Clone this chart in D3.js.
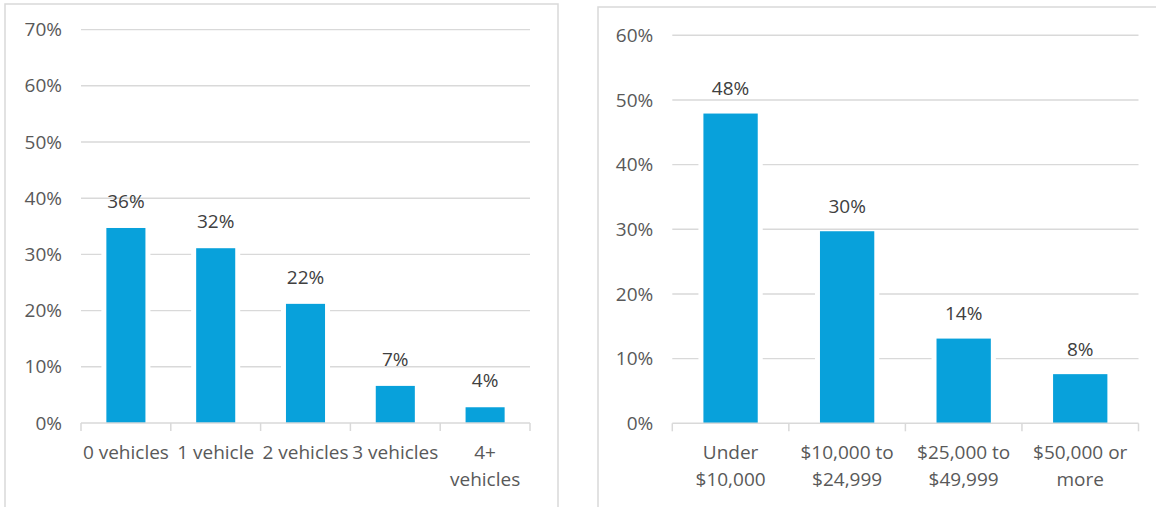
<!DOCTYPE html>
<html>
<head>
<meta charset="utf-8">
<script src="https://cdn.jsdelivr.net/npm/d3@7"></script>
<style>
    body { margin: 0; background: #fff; }
    svg { display: block; font-family: "Open Sans", "Noto Sans", sans-serif; }
</style>
</head>
<body>
<div id="chart"></div>
<script>
// Left chart: vehicles available
const vehicleCategories = ['0 vehicles', '1 vehicle', '2 vehicles', '3 vehicles', '4+\nvehicles'];
const vehicleValues = [34.7, 31.1, 21.2, 6.6, 2.8];
const vehicleLabels = ['36%', '32%', '22%', '7%', '4%'];
const vehicleTicks = [0, 10, 20, 30, 40, 50, 60, 70];

// Right chart: household income
const incomeCategories = ['Under\n$10,000', '$10,000 to\n$24,999', '$25,000 to\n$49,999', '$50,000 or\nmore'];
const incomeValues = [47.9, 29.7, 13.1, 7.6];
const incomeLabels = ['48%', '30%', '14%', '8%'];
const incomeTicks = [0, 10, 20, 30, 40, 50, 60];

const colors = {
    bar: '#08a1db',
    grid: '#d9d9d9',
    axisText: '#595959',
    labelText: '#404040'
};

const svg = d3.select('#chart')
    .append('svg')
    .attr('width', 1156)
    .attr('height', 507);

function drawChart(opts) {
    const g = svg.append('g');

    // panel border
    g.append('rect')
        .attr('x', opts.panel.x)
        .attr('y', opts.panel.y)
        .attr('width', opts.panel.w)
        .attr('height', opts.panel.h)
        .attr('fill', 'none')
        .attr('stroke', colors.grid)
        .attr('stroke-width', 1.5);

    const x = d3.scaleBand()
        .domain(opts.categories)
        .range([opts.left, opts.right])
        .padding(0);

    const y = d3.scaleLinear()
        .domain([0, d3.max(opts.ticks)])
        .range([opts.bottom, opts.top]);

    // gridlines
    g.selectAll('line.grid')
        .data(opts.ticks.filter(t => t > 0))
        .enter()
        .append('line')
        .attr('class', 'grid')
        .attr('x1', opts.left)
        .attr('x2', opts.right)
        .attr('y1', d => y(d))
        .attr('y2', d => y(d))
        .attr('stroke', colors.grid)
        .attr('stroke-width', 1.4);

    // y axis labels
    const yAxis = g.append('g')
        .attr('transform', `translate(${opts.left - 19},0)`)
        .call(d3.axisLeft(y).tickValues(opts.ticks).tickSize(0).tickPadding(0).tickFormat(d => d + '%'));
    yAxis.select('.domain').remove();
    yAxis.selectAll('text')
        .attr('fill', colors.axisText)
        .style('font-size', '19px')
        .style('font-family', '"Open Sans", "Noto Sans", sans-serif');

    const data = opts.categories.map((c, i) => ({cat: c, value: opts.values[i], label: opts.labels[i]}));
    const barW = x.bandwidth() * opts.barRatio;

    // white gap on each side of the bars (hides gridlines)
    g.selectAll('rect.halo')
        .data(data)
        .enter()
        .append('rect')
        .attr('class', 'halo')
        .attr('x', d => x(d.cat) + (x.bandwidth() - barW) / 2 - 5)
        .attr('y', d => y(d.value))
        .attr('width', barW + 10)
        .attr('height', d => y(0) - y(d.value))
        .attr('fill', '#fff');

    g.selectAll('rect.bar')
        .data(data)
        .enter()
        .append('rect')
        .attr('class', 'bar')
        .attr('x', d => x(d.cat) + (x.bandwidth() - barW) / 2)
        .attr('y', d => y(d.value))
        .attr('width', barW)
        .attr('height', d => y(0) - y(d.value))
        .attr('fill', colors.bar);

    // data labels
    g.selectAll('text.value')
        .data(data)
        .enter()
        .append('text')
        .attr('class', 'value')
        .attr('x', d => x(d.cat) + x.bandwidth() / 2)
        .attr('y', d => y(d.value) - opts.labelOffset)
        .attr('text-anchor', 'middle')
        .attr('fill', colors.labelText)
        .style('font-size', '19px')
        .text(d => d.label);

    // x axis line and ticks between categories
    g.append('line')
        .attr('x1', opts.left)
        .attr('x2', opts.right)
        .attr('y1', y(0))
        .attr('y2', y(0))
        .attr('stroke', colors.grid)
        .attr('stroke-width', 1.5);

    const tickPos = opts.categories.map(c => x(c)).concat([opts.right]);
    g.selectAll('line.xtick')
        .data(tickPos)
        .enter()
        .append('line')
        .attr('class', 'xtick')
        .attr('x1', d => d)
        .attr('x2', d => d)
        .attr('y1', y(0))
        .attr('y2', y(0) + 8)
        .attr('stroke', colors.grid)
        .attr('stroke-width', 1.5);

    // category labels
    const catText = g.selectAll('text.cat')
        .data(opts.categories)
        .enter()
        .append('text')
        .attr('class', 'cat')
        .attr('x', d => x(d) + x.bandwidth() / 2)
        .attr('y', y(0) + 36)
        .attr('text-anchor', 'middle')
        .attr('fill', colors.axisText)
        .style('font-size', '19px');

    catText.each(function(d) {
        const lines = d.split('\n');
        const el = d3.select(this);
        lines.forEach((line, i) => {
            el.append('tspan')
                .attr('x', el.attr('x'))
                .attr('dy', i === 0 ? 0 : 26.5)
                .text(line);
        });
    });
}

drawChart({
    categories: vehicleCategories,
    values: vehicleValues,
    labels: vehicleLabels,
    ticks: vehicleTicks,
    panel: {x: 5, y: 4, w: 553, h: 530},
    left: 81, right: 530, top: 29.6, bottom: 423,
    barRatio: 0.435,
    labelOffset: 20
});

drawChart({
    categories: incomeCategories,
    values: incomeValues,
    labels: incomeLabels,
    ticks: incomeTicks,
    panel: {x: 598, y: 7, w: 600, h: 530},
    left: 672.3, right: 1138.5, top: 35.3, bottom: 423.3,
    barRatio: 0.466,
    labelOffset: 18.5
});
</script>
</body>
</html>
